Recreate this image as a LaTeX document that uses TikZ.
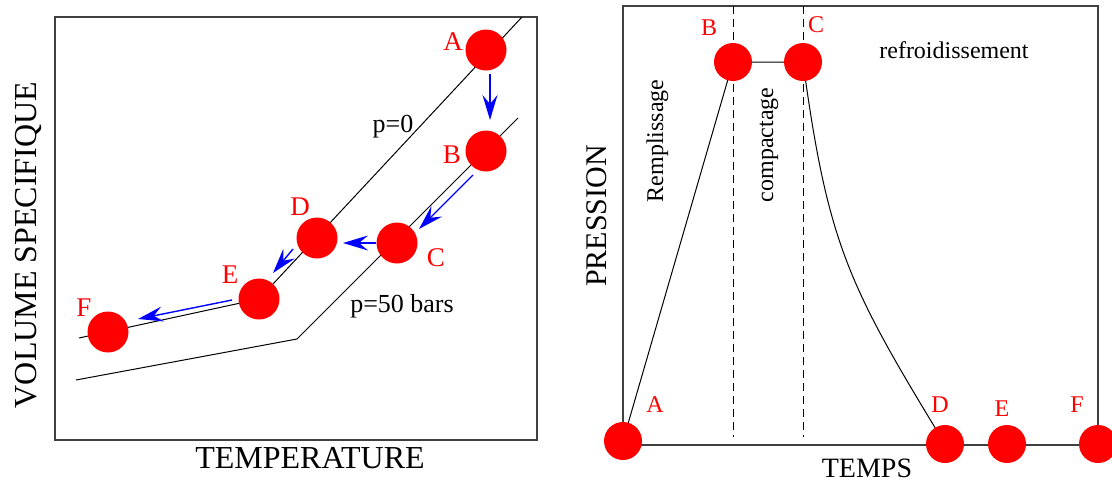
\documentclass[tikz,border=0pt]{standalone}
\usepackage{fontspec}
\setmainfont{Liberation Serif}
\usetikzlibrary{arrows.meta}
\begin{document}
\begin{tikzpicture}[x=1pt,y=-1pt,
  dot/.style={circle, fill=red, inner sep=0pt, minimum size=41pt},
  rdot/.style={circle, fill=red, inner sep=0pt, minimum size=38pt},
  lbl/.style={text=red, anchor=base, inner sep=0pt, font=\fontsize{27}{27}\selectfont},
  rlbl/.style={text=red, anchor=base, inner sep=0pt, font=\fontsize{24}{24}\selectfont},
  txt/.style={anchor=base, inner sep=0pt},
  frame/.style={draw=black!75, line width=1.2pt},
  curve/.style={draw=black, line width=1pt},
  guide/.style={draw=black, line width=1pt, dash pattern=on 8pt off 5pt},
  flow/.style={draw=blue, line width=1.4pt, -{Stealth[length=25pt,width=15pt,inset=9pt]}}
]
\useasboundingbox (0,0) rectangle (1112,485);

% ---------- left panel ----------
\draw[frame] (55,17) rectangle (537,440);
\coordinate (LA) at (486,50);
\coordinate (LB) at (486,151);
\coordinate (LC) at (397,243);
\coordinate (LD) at (317,238);
\coordinate (LE) at (259,299);
\coordinate (LF) at (108,332);
\coordinate (p0top) at (522,17);
\coordinate (p0end) at (79,338);
\coordinate (p50top) at (518,118);
\coordinate (p50knee) at (297,339);
\coordinate (p50end) at (76,380);
\draw[curve] (p0top) -- (LE) -- (p0end);
\draw[curve] (p50top) -- (p50knee) -- (p50end);

\foreach \n in {LA,LB,LC,LD,LE,LF} \node[dot] (\n n) at (\n) {};

\node[lbl] (tLA) at (453,50) {A};
\node[lbl] (tLB) at (452,163) {B};
\node[lbl] (tLC) at (436,266) {C};
\node[lbl] (tLD) at (300,215) {D};
\node[lbl] (tLE) at (230,283) {E};
\node[lbl] (tLF) at (84,316) {F};

\coordinate (a1) at (490,74);  \coordinate (a2) at (490,120);
\coordinate (b1) at (473,175); \coordinate (b2) at (419,229);
\coordinate (c1) at (376,243); \coordinate (c2) at (343,243);
\coordinate (d1) at (293,249); \coordinate (d2) at (273,273);
\coordinate (e1) at (232,300); \coordinate (e2) at (138,319);
\draw[flow] (a1) -- (a2);
\draw[flow] (b1) -- (b2);
\draw[flow] (c1) -- (c2);
\draw[flow] (d1) -- (d2);
\draw[flow] (e1) -- (e2);

\node[txt, font=\fontsize{26}{26}\selectfont] (p0) at (393,132) {p=0};
\node[txt, font=\fontsize{26}{26}\selectfont] (p50) at (402,312) {p=50 bars};
\node[txt, font=\fontsize{32}{32}\selectfont] (xlab) at (310,468) {TEMPERATURE};
\node[txt, rotate=90, font=\fontsize{32}{32}\selectfont] (ylab) at (36,245) {VOLUME SPECIFIQUE};

% ---------- right panel ----------
\draw[frame] (623,6) rectangle (1098,445);
\coordinate (RA) at (623,441);
\coordinate (RB) at (733,62);
\coordinate (RC) at (803,62);
\coordinate (RD) at (945,444);
\coordinate (RE) at (1007,444);
\coordinate (RF) at (1098,444);
\coordinate (g1t) at (733,6);  \coordinate (g1b) at (733,437);
\coordinate (g2t) at (803,6);  \coordinate (g2b) at (803,437);
\draw[guide] (g1t) -- (g1b);
\draw[guide] (g2t) -- (g2b);
\draw[curve] (RA) -- (RB) -- (RC) .. controls (828,245) and (848,285) .. (RD);

\foreach \n in {RA,RB,RC,RD,RE,RF} \node[rdot] (\n n) at (\n) {};

\node[rlbl] (tRA) at (655,412) {A};
\node[rlbl] (tRB) at (709,35) {B};
\node[rlbl] (tRC) at (816,32) {C};
\node[rlbl] (tRD) at (940,412) {D};
\node[rlbl] (tRE) at (1002,416) {E};
\node[rlbl] (tRF) at (1077,412) {F};

\node[txt, font=\fontsize{24}{24}\selectfont] (refr) at (954,58) {refroidissement};
\node[txt, rotate=90, font=\fontsize{24}{24}\selectfont] (rempl) at (663,141) {Remplissage};
\node[txt, rotate=90, font=\fontsize{24}{24}\selectfont] (compa) at (773,145) {compactage};
\node[txt, font=\fontsize{28}{28}\selectfont] (tlab) at (867,477) {TEMPS};
\node[txt, rotate=90, font=\fontsize{30}{30}\selectfont] (plab) at (606,216) {PRESSION};
\end{tikzpicture}
\end{document}
